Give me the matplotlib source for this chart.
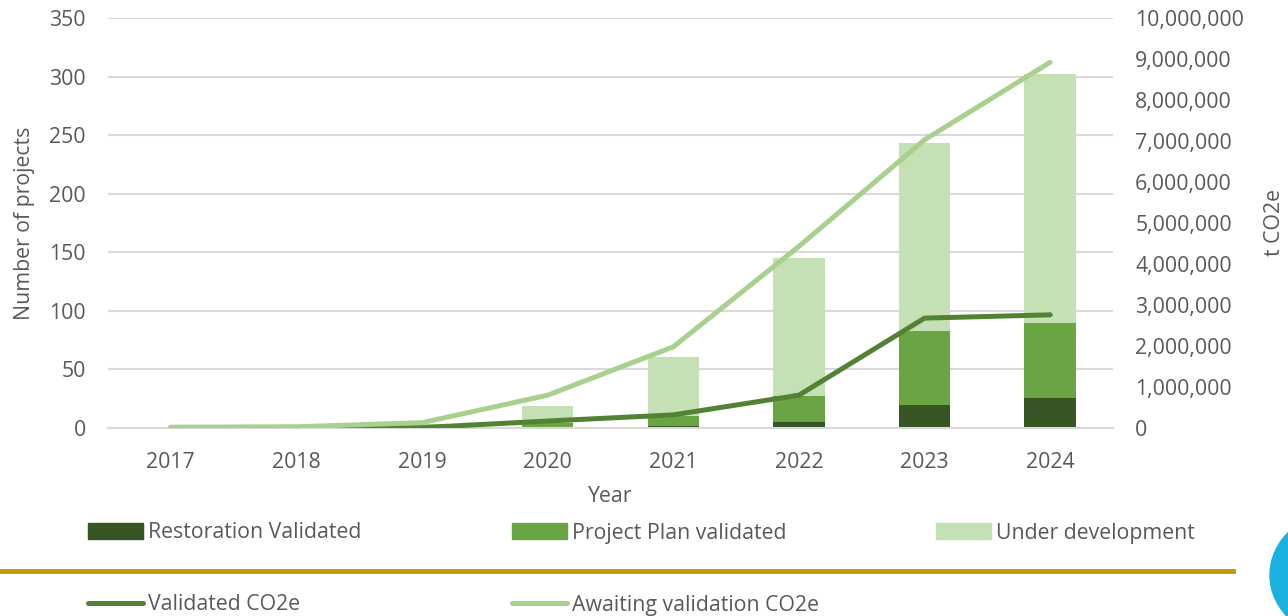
import matplotlib.pyplot as plt
import numpy as np
from matplotlib.lines import Line2D
from matplotlib.patches import Patch, Ellipse
from matplotlib.ticker import FuncFormatter

plt.rcParams['font.family'] = ['Open Sans', 'DejaVu Sans']

years = ['2017', '2018', '2019', '2020', '2021', '2022', '2023', '2024']

# number of projects (stacked)
restoration_validated = [0, 0, 0, 0, 2, 5, 20, 26]
plan_validated = [0, 0, 0, 4, 8, 22, 63, 64]
under_development = [1, 1, 3, 15, 51, 118, 160, 212]

# tonnes CO2e (right axis)
validated_co2 = [0, 0, 10000, 170000, 320000, 800000, 2680000, 2760000]
awaiting_co2 = [20000, 30000, 130000, 800000, 1980000, 4430000, 7030000, 8920000]

c_rest = '#375623'
c_plan = '#6aa443'
c_dev = '#c5e0b4'
c_valline = '#548235'
c_awline = '#a9d18e'
grey = '#595959'
fs = 15.3

fig = plt.figure(figsize=(12.88, 6.16), dpi=100)
ax = fig.add_axes([108/1288, 1 - 428/616, (1113 - 108)/1288, (428 - 18)/616])

x = np.arange(len(years))
w = 0.41
rest = np.array(restoration_validated)
plan = np.array(plan_validated)
dev = np.array(under_development)
ax.bar(x, rest, w, color=c_rest, zorder=2)
ax.bar(x, plan, w, bottom=rest, color=c_plan, zorder=2)
ax.bar(x, dev, w, bottom=rest + plan, color=c_dev, zorder=2)

ax.set_ylim(0, 350)
ax.set_yticks(range(0, 351, 50))
ax.set_xlim(-0.5, len(years) - 0.5)
ax.set_xticks(x)
ax.set_xticklabels(years)
ax.grid(axis='y', color='#d9d9d9', linewidth=1.5, zorder=0)
ax.set_axisbelow(True)
for s in ['top', 'left', 'right']:
    ax.spines[s].set_visible(False)
ax.spines['bottom'].set_color('#d9d9d9')
ax.spines['bottom'].set_linewidth(1.5)
ax.tick_params(axis='both', length=0, labelsize=fs, colors=grey)
ax.tick_params(axis='x', pad=17)
ax.tick_params(axis='y', pad=16)
ax.set_xlabel('Year', fontsize=fs, color=grey, labelpad=10)
ax.set_ylabel('Number of projects', fontsize=fs, color=grey, labelpad=10)

ax2 = ax.twinx()
ax2.plot(x, validated_co2, color=c_valline, lw=3.6, solid_capstyle='round', solid_joinstyle='round', zorder=3)
ax2.plot(x, awaiting_co2, color=c_awline, lw=3.6, solid_capstyle='round', solid_joinstyle='round', zorder=3)
ax2.set_ylim(0, 10000000)
ax2.set_yticks(range(0, 10000001, 1000000))
ax2.yaxis.set_major_formatter(FuncFormatter(lambda v, p: f'{int(v):,}'))
for s in ['top', 'left', 'right', 'bottom']:
    ax2.spines[s].set_visible(False)
ax2.tick_params(axis='y', length=0, labelsize=fs, colors=grey, pad=16)
ax2.set_ylabel('t CO2e', fontsize=fs, color=grey, labelpad=14)

# legend items placed one by one
items = [
    (Patch(color=c_rest), 'Restoration Validated', 88, 533),
    (Patch(color=c_plan), 'Project Plan validated', 512, 533),
    (Patch(color=c_dev), 'Under development', 936, 533),
    (Line2D([], [], color=c_valline, lw=3.6, solid_capstyle='round'), 'Validated CO2e', 88, 605),
    (Line2D([], [], color=c_awline, lw=3.6, solid_capstyle='round'), 'Awaiting validation CO2e', 512, 605),
]
for h, lab, px, py in items:
    leg = fig.legend([h], [lab], loc='center left', bbox_to_anchor=(px/1288, 1 - py/616),
                     frameon=False, fontsize=fs, handlelength=2.6, handleheight=0.75,
                     handletextpad=0.2, borderpad=0, borderaxespad=0)
    for t in leg.get_texts():
        t.set_color(grey)

# gold separator line and logo fragment
fig.add_artist(Line2D([0, 1233/1288], [1 - 571/616, 1 - 571/616], color='#bf9a0a', lw=3.5))
logo = Ellipse((1345/1288, 1 - 575/616), 150/1288, 130/616, color='#1ab0e0', transform=fig.transFigure)
fig.add_artist(logo)

fig.savefig('out.png', dpi=100)
